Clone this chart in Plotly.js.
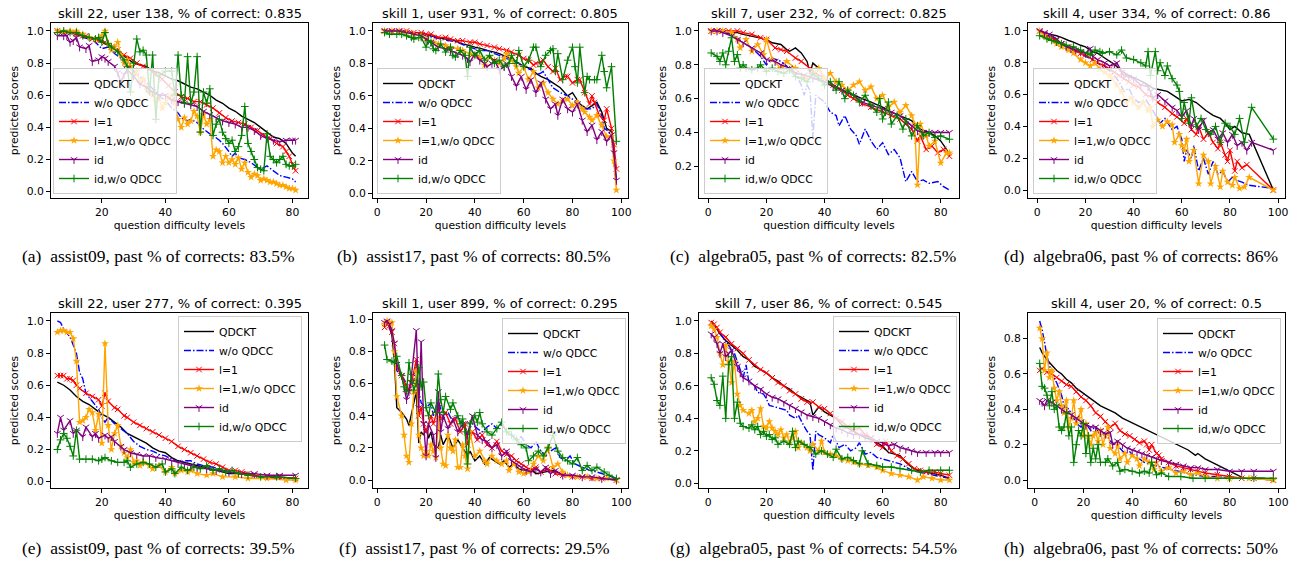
<!DOCTYPE html>
<html>
<head>
<meta charset="utf-8">
<script src="https://cdn.plot.ly/plotly-3.0.1.min.js"></script>
<style>html,body{margin:0;padding:0;background:#fff;}#chart{width:1297px;height:561px;}</style>
</head>
<body>
<div id="chart"></div>
<script>
// ---------------- DATA ----------------
const SERIES_NAMES = ["QDCKT", "w/o QDCC", "l=1", "l=1,w/o QDCC", "id", "id,w/o QDCC"];
const PANEL_TITLES = [
  "skill 22, user 138, % of correct: 0.835",
  "skill 1, user 931, % of correct: 0.805",
  "skill 7, user 232, % of correct: 0.825",
  "skill 4, user 334, % of correct: 0.86",
  "skill 22, user 277, % of correct: 0.395",
  "skill 1, user 899, % of correct: 0.295",
  "skill 7, user 86, % of correct: 0.545",
  "skill 4, user 20, % of correct: 0.5"
];
const CAPTIONS = [
  "(a)\u00a0 assist09, past % of corrects: 83.5%",
  "(b)\u00a0 assist17, past % of corrects: 80.5%",
  "(c)\u00a0 algebra05, past % of corrects: 82.5%",
  "(d)\u00a0 algebra06, past % of corrects: 86%",
  "(e)\u00a0 assist09, past % of corrects: 39.5%",
  "(f)\u00a0 assist17, past % of corrects: 29.5%",
  "(g)\u00a0 algebra05, past % of corrects: 54.5%",
  "(h)\u00a0 algebra06, past % of corrects: 50%"
];
const X_TITLE = "question difficulty levels";
const Y_TITLE = "predicted scores";

// panel (a)
const a_qdckt = [[6,1.0],[8,0.99],[10,0.99],[12,0.98],[14,0.97],[16,0.96],[18,0.95],[20,0.93],[22,0.91],[24,0.89],[26,0.86],[28,0.83],[30,0.80],[32,0.79],[34,0.78],[36,0.75],[38,0.74],[40,0.72],[42,0.70],[44,0.69],[46,0.67],[48,0.65],[50,0.64],[52,0.62],[54,0.60],[56,0.57],[58,0.55],[60,0.52],[62,0.50],[64,0.47],[66,0.45],[68,0.43],[70,0.40],[72,0.37],[74,0.34],[76,0.33],[78,0.30],[80,0.24],[81,0.22]];
const a_woqdcc = [[6,1.0],[8,1.0],[10,0.99],[12,0.98],[14,0.96],[16,0.95],[18,0.93],[20,0.89],[22,0.90],[24,0.86],[26,0.83],[28,0.78],[30,0.75],[32,0.72],[33,0.70],[35,0.66],[37,0.62],[39,0.58],[40,0.57],[42,0.52],[44,0.49],[45,0.46],[47,0.44],[48,0.45],[50,0.43],[52,0.39],[54,0.36],[55,0.35],[57,0.32],[58,0.30],[60,0.25],[61,0.22],[62,0.24],[63,0.21],[65,0.20],[67,0.18],[69,0.15],[70,0.14],[72,0.16],[74,0.13],[76,0.10],[78,0.09],[80,0.08],[81,0.06]];
const a_l1 = [[6,1.0],[8,0.99],[10,0.99],[12,0.98],[14,0.97],[15,0.97],[17,0.95],[19,0.94],[21,0.93],[23,0.90],[25,0.88],[27,0.85],[29,0.83],[31,0.80],[33,0.78],[35,0.76],[37,0.73],[39,0.70],[41,0.66],[43,0.62],[45,0.59],[47,0.58],[49,0.56],[51,0.56],[53,0.54],[55,0.52],[57,0.49],[59,0.46],[61,0.44],[63,0.43],[65,0.42],[67,0.40],[69,0.38],[71,0.35],[73,0.33],[75,0.30],[77,0.28],[78,0.25],[79,0.22],[80,0.17],[81,0.13]];
const a_l1wo = [[6,1.0],[8,1.0],[10,1.0],[12,1.0],[14,0.98],[16,0.96],[18,0.95],[20,0.97],[21,1.0],[22,0.92],[23,0.88],[24,0.90],[25,0.93],[26,0.85],[27,0.80],[28,0.82],[29,0.78],[30,0.72],[31,0.75],[32,0.68],[33,0.70],[34,0.65],[35,0.62],[36,0.60],[37,0.56],[38,0.58],[39,0.52],[40,0.55],[41,0.58],[42,0.60],[43,0.55],[44,0.45],[45,0.40],[46,0.46],[47,0.42],[48,0.44],[49,0.50],[50,0.47],[51,0.37],[52,0.48],[53,0.42],[54,0.45],[55,0.22],[56,0.26],[57,0.25],[58,0.18],[59,0.22],[60,0.18],[61,0.20],[62,0.17],[63,0.21],[64,0.14],[65,0.18],[66,0.12],[67,0.09],[68,0.11],[69,0.10],[70,0.07],[71,0.08],[72,0.07],[73,0.06],[74,0.06],[75,0.05],[76,0.04],[77,0.04],[78,0.03],[79,0.02],[80,0.02],[81,0.01]];
const a_id = [[6,0.97],[8,0.97],[9,0.97],[10,0.93],[11,0.94],[12,0.96],[13,0.90],[15,0.89],[16,0.91],[17,0.81],[19,0.82],[20,0.84],[21,0.83],[22,0.81],[24,0.78],[25,0.74],[26,0.68],[27,0.73],[28,0.76],[30,0.72],[32,0.67],[34,0.65],[36,0.62],[38,0.60],[40,0.60],[42,0.57],[44,0.56],[46,0.55],[48,0.54],[50,0.53],[52,0.50],[54,0.48],[56,0.46],[58,0.44],[60,0.43],[62,0.42],[64,0.40],[66,0.40],[68,0.38],[70,0.35],[72,0.33],[74,0.32],[76,0.31],[78,0.32],[80,0.32],[81,0.32]];
const a_idwo = [[6,0.99],[8,1.0],[10,0.99],[12,0.99],[14,0.97],[16,0.96],[18,0.95],[19,0.96],[20,0.93],[21,0.99],[22,0.92],[23,0.90],[25,0.87],[27,0.82],[28,0.78],[29,0.62],[30,0.80],[31,0.95],[32,0.87],[33,0.88],[34,0.85],[35,0.62],[36,0.85],[37,0.45],[38,0.72],[40,0.75],[42,0.75],[43,0.60],[44,0.85],[45,0.60],[46,0.55],[47,0.84],[48,0.55],[49,0.62],[50,0.84],[51,0.37],[52,0.62],[53,0.55],[54,0.64],[55,0.35],[56,0.42],[57,0.45],[58,0.37],[59,0.33],[60,0.30],[61,0.32],[62,0.25],[63,0.28],[64,0.35],[65,0.53],[66,0.30],[67,0.25],[68,0.20],[69,0.15],[70,0.14],[71,0.13],[72,0.36],[73,0.22],[74,0.20],[75,0.18],[76,0.20],[77,0.22],[78,0.17],[79,0.16],[80,0.16],[81,0.17]];

// panel (b)
const b_qdckt = [[3,1.0],[6,1.0],[9,1.0],[12,0.99],[15,0.99],[18,0.99],[20,0.98],[22,0.97],[25,0.96],[28,0.95],[30,0.95],[33,0.93],[35,0.92],[38,0.91],[40,0.90],[43,0.89],[45,0.88],[48,0.87],[50,0.86],[53,0.84],[55,0.83],[58,0.80],[60,0.78],[63,0.77],[65,0.74],[67,0.72],[70,0.70],[72,0.68],[75,0.65],[78,0.60],[80,0.62],[83,0.55],[86,0.52],[88,0.54],[90,0.56],[92,0.50],[94,0.40],[96,0.38],[97,0.25],[98,0.08]];
const b_woqdcc = [[3,1.0],[6,1.0],[9,1.0],[12,0.99],[15,0.99],[18,0.98],[20,0.97],[23,0.96],[26,0.95],[30,0.94],[33,0.93],[36,0.91],[40,0.89],[43,0.88],[45,0.88],[48,0.86],[50,0.85],[53,0.83],[55,0.82],[58,0.80],[60,0.78],[63,0.76],[65,0.73],[67,0.74],[68,0.75],[70,0.70],[72,0.65],[75,0.62],[78,0.60],[80,0.58],[83,0.55],[85,0.52],[88,0.52],[90,0.55],[92,0.48],[93,0.40],[95,0.38],[96,0.35],[97,0.20],[98,0.05]];
const b_l1 = [[3,1.0],[6,1.0],[9,1.0],[12,1.0],[15,0.99],[18,0.99],[20,0.98],[22,0.98],[25,0.96],[28,0.96],[30,0.95],[33,0.94],[35,0.94],[38,0.93],[40,0.93],[42,0.92],[45,0.91],[48,0.90],[50,0.89],[53,0.88],[55,0.87],[58,0.85],[60,0.83],[62,0.82],[64,0.79],[65,0.80],[67,0.81],[68,0.82],[70,0.78],[72,0.75],[73,0.77],[75,0.70],[77,0.72],[78,0.72],[80,0.68],[82,0.70],[83,0.70],[85,0.62],[87,0.55],[88,0.60],[89,0.56],[91,0.48],[93,0.45],[94,0.52],[96,0.40],[97,0.30],[98,0.15]];
const b_l1wo = [[3,1.0],[6,1.0],[9,1.0],[12,0.99],[15,0.98],[18,0.97],[20,0.95],[23,0.93],[25,0.92],[28,0.91],[30,0.90],[33,0.89],[35,0.88],[38,0.86],[40,0.85],[42,0.84],[44,0.79],[46,0.84],[48,0.82],[50,0.80],[52,0.83],[53,0.86],[55,0.82],[57,0.78],[58,0.74],[60,0.78],[62,0.70],[64,0.75],[66,0.65],[68,0.68],[70,0.62],[72,0.58],[74,0.55],[76,0.57],[78,0.58],[80,0.54],[82,0.56],[84,0.52],[85,0.50],[87,0.47],[88,0.45],[90,0.48],[92,0.42],[94,0.35],[96,0.35],[97,0.20],[98,0.02]];
const b_id = [[3,1.0],[6,1.0],[9,1.0],[12,0.99],[15,0.98],[18,0.97],[20,0.95],[22,0.93],[25,0.90],[28,0.89],[30,0.88],[33,0.86],[35,0.85],[37,0.83],[38,0.81],[40,0.86],[42,0.82],[44,0.80],[45,0.78],[47,0.80],[48,0.82],[50,0.76],[52,0.78],[53,0.80],[55,0.72],[57,0.66],[59,0.72],[61,0.64],[63,0.70],[65,0.62],[67,0.68],[69,0.58],[71,0.52],[73,0.55],[74,0.48],[76,0.58],[78,0.52],[80,0.50],[82,0.55],[84,0.45],[86,0.38],[88,0.42],[90,0.33],[92,0.38],[94,0.32],[96,0.36],[97,0.25],[98,0.08]];
const b_idwo = [[3,0.99],[5,0.98],[8,0.98],[10,0.98],[12,0.97],[14,0.96],[15,0.95],[17,0.96],[18,0.96],[20,0.90],[21,0.94],[22,0.93],[23,0.89],[24,0.88],[26,0.92],[28,0.87],[30,0.90],[31,0.85],[32,0.84],[34,0.88],[36,0.85],[37,0.72],[38,0.90],[40,0.85],[42,0.88],[44,0.82],[46,0.85],[48,0.80],[50,0.82],[52,0.78],[54,0.80],[55,0.85],[57,0.80],[58,0.88],[60,0.78],[62,0.82],[64,0.90],[65,0.90],[67,0.78],[69,0.85],[71,0.88],[72,0.89],[73,0.75],[74,0.86],[76,0.70],[78,0.82],[80,0.90],[81,0.78],[82,0.68],[83,0.90],[85,0.62],[86,0.72],[87,0.70],[89,0.70],[90,0.70],[92,0.85],[93,0.75],[94,0.65],[96,0.78],[98,0.32]];

// panel (c)
const c_qdckt = [[1,1.0],[3,1.0],[5,1.0],[7,0.99],[10,0.99],[12,0.98],[15,0.97],[18,0.96],[20,0.95],[22,0.93],[25,0.92],[27,0.89],[28,0.88],[30,0.90],[32,0.87],[34,0.82],[35,0.75],[36,0.81],[38,0.78],[40,0.72],[43,0.68],[46,0.65],[50,0.62],[53,0.60],[56,0.58],[60,0.55],[63,0.52],[66,0.50],[70,0.47],[73,0.42],[76,0.40],[78,0.38],[80,0.35],[82,0.30],[83,0.26]];
const c_woqdcc = [[1,1.0],[3,1.0],[5,0.99],[8,0.98],[10,0.96],[12,0.93],[15,0.90],[18,0.85],[20,0.80],[22,0.84],[25,0.82],[28,0.78],[30,0.75],[32,0.68],[33,0.62],[34,0.68],[35,0.65],[36,0.37],[37,0.62],[40,0.58],[42,0.52],[44,0.50],[45,0.44],[47,0.50],[49,0.42],[51,0.38],[52,0.33],[54,0.42],[56,0.35],[58,0.30],[60,0.34],[62,0.27],[64,0.30],[66,0.25],[68,0.11],[70,0.17],[72,0.11],[74,0.12],[76,0.10],[79,0.11],[81,0.08],[83,0.06]];
const c_l1 = [[1,1.0],[3,1.0],[5,1.0],[7,1.0],[10,1.0],[12,0.99],[15,0.98],[18,0.96],[20,0.95],[23,0.90],[25,0.89],[27,0.88],[30,0.84],[32,0.82],[35,0.78],[37,0.75],[40,0.72],[43,0.68],[46,0.65],[48,0.62],[50,0.60],[53,0.57],[56,0.55],[60,0.52],[63,0.50],[66,0.48],[68,0.45],[70,0.42],[72,0.35],[73,0.38],[75,0.30],[77,0.32],[79,0.28],[81,0.30],[83,0.26]];
const c_l1wo = [[1,1.0],[3,1.0],[5,1.0],[8,0.99],[10,0.95],[11,0.90],[13,0.95],[15,0.88],[17,0.92],[19,0.86],[20,0.95],[22,0.83],[25,0.78],[27,0.82],[30,0.78],[33,0.72],[36,0.75],[38,0.78],[40,0.72],[42,0.75],[44,0.70],[46,0.68],[48,0.65],[50,0.68],[52,0.70],[54,0.65],[56,0.67],[58,0.60],[60,0.62],[62,0.55],[64,0.58],[66,0.52],[68,0.56],[70,0.50],[71,0.45],[72,0.09],[73,0.45],[75,0.38],[76,0.32],[78,0.35],[80,0.22],[82,0.28],[83,0.28]];
const c_id = [[1,1.0],[3,1.0],[5,0.99],[8,0.97],[10,0.95],[12,0.93],[15,0.90],[18,0.87],[20,0.83],[23,0.82],[25,0.80],[28,0.78],[30,0.75],[33,0.74],[36,0.72],[40,0.70],[43,0.67],[46,0.65],[50,0.62],[53,0.58],[56,0.56],[60,0.54],[63,0.52],[66,0.50],[68,0.47],[70,0.44],[72,0.41],[74,0.40],[76,0.40],[78,0.40],[80,0.40],[83,0.40]];
const c_idwo = [[1,0.87],[3,0.85],[4,0.82],[5,0.87],[6,0.80],[7,0.88],[8,0.96],[9,0.82],[10,0.86],[11,0.78],[12,0.80],[13,0.78],[15,0.77],[17,0.78],[18,0.80],[20,0.76],[22,0.78],[24,0.76],[26,0.75],[28,0.77],[30,0.73],[32,0.72],[34,0.70],[36,0.75],[38,0.72],[40,0.68],[42,0.70],[44,0.65],[45,0.70],[47,0.60],[48,0.65],[50,0.62],[52,0.58],[54,0.62],[56,0.56],[58,0.52],[59,0.60],[60,0.48],[61,0.52],[62,0.58],[63,0.45],[65,0.50],[67,0.42],[68,0.48],[70,0.38],[72,0.44],[74,0.38],[76,0.40],[78,0.37],[80,0.38],[83,0.36]];

// panel (d)
const d_qdckt = [[1,1.0],[3,0.99],[5,0.98],[8,0.97],[10,0.96],[13,0.94],[15,0.93],[18,0.91],[20,0.90],[23,0.87],[25,0.86],[28,0.83],[30,0.81],[32,0.79],[35,0.75],[38,0.72],[41,0.70],[45,0.67],[48,0.64],[51,0.63],[54,0.62],[57,0.59],[60,0.56],[63,0.57],[66,0.55],[70,0.50],[73,0.47],[76,0.45],[78,0.42],[80,0.38],[82,0.40],[85,0.36],[88,0.35],[98,0.0]];
const d_woqdcc = [[1,1.0],[3,0.98],[5,0.97],[8,0.94],[10,0.92],[13,0.90],[15,0.88],[18,0.86],[20,0.84],[23,0.82],[25,0.80],[28,0.77],[30,0.75],[32,0.72],[34,0.68],[36,0.62],[38,0.64],[40,0.58],[42,0.55],[45,0.57],[48,0.50],[51,0.42],[53,0.45],[56,0.38],[58,0.40],[60,0.32],[61,0.18],[62,0.25],[64,0.20],[65,0.28],[67,0.12],[69,0.20],[71,0.10],[73,0.18],[75,0.10],[77,0.12],[79,0.05],[81,0.08],[83,0.06],[85,0.05],[88,0.03],[98,0.01]];
const d_l1 = [[1,1.0],[3,0.98],[5,0.96],[8,0.94],[10,0.92],[13,0.90],[15,0.88],[18,0.86],[20,0.85],[23,0.82],[25,0.80],[28,0.78],[30,0.76],[32,0.74],[34,0.72],[36,0.70],[38,0.68],[40,0.66],[42,0.65],[45,0.60],[48,0.58],[50,0.55],[53,0.52],[56,0.48],[58,0.46],[61,0.42],[62,0.45],[64,0.38],[66,0.35],[67,0.40],[69,0.32],[71,0.36],[73,0.30],[75,0.26],[76,0.30],[78,0.22],[79,0.18],[80,0.25],[82,0.12],[83,0.18],[85,0.14],[87,0.16],[98,0.0]];
const d_l1wo = [[1,1.0],[3,0.97],[5,0.95],[8,0.92],[10,0.90],[13,0.88],[15,0.86],[18,0.82],[20,0.80],[22,0.78],[24,0.80],[26,0.76],[28,0.74],[30,0.72],[31,0.70],[33,0.66],[35,0.62],[37,0.55],[39,0.58],[40,0.55],[42,0.52],[44,0.55],[46,0.50],[47,0.52],[48,0.40],[50,0.44],[52,0.40],[54,0.43],[56,0.41],[57,0.30],[59,0.35],[60,0.28],[61,0.25],[62,0.32],[63,0.18],[65,0.25],[67,0.04],[69,0.22],[71,0.18],[72,0.04],[74,0.15],[76,0.02],[77,0.12],[79,0.05],[81,0.03],[82,0.08],[84,0.01],[86,0.02],[88,0.08],[98,0.0]];
const d_id = [[1,1.0],[3,0.99],[5,0.98],[8,0.95],[10,0.92],[12,0.90],[14,0.89],[16,0.88],[18,0.87],[20,0.86],[22,0.89],[23,0.84],[25,0.82],[28,0.80],[30,0.78],[32,0.79],[33,0.80],[35,0.74],[36,0.72],[38,0.71],[40,0.70],[43,0.66],[46,0.65],[47,0.62],[48,0.58],[50,0.60],[53,0.56],[56,0.52],[58,0.50],[60,0.46],[62,0.50],[64,0.40],[65,0.45],[67,0.38],[69,0.44],[71,0.36],[73,0.38],[75,0.32],[77,0.36],[79,0.30],[81,0.35],[83,0.28],[85,0.30],[87,0.25],[89,0.30],[98,0.25]];
const d_idwo = [[1,0.97],[4,0.95],[6,0.94],[8,0.93],[10,0.92],[12,0.91],[15,0.90],[18,0.88],[21,0.86],[22,0.85],[24,0.88],[26,0.87],[27,0.86],[30,0.87],[33,0.85],[35,0.88],[37,0.83],[40,0.82],[43,0.80],[45,0.78],[46,0.87],[47,0.72],[49,0.87],[50,0.75],[51,0.80],[53,0.72],[54,0.78],[56,0.70],[58,0.66],[59,0.62],[60,0.45],[61,0.55],[63,0.42],[64,0.58],[66,0.40],[68,0.45],[70,0.38],[72,0.35],[74,0.40],[76,0.30],[78,0.42],[80,0.40],[82,0.35],[84,0.45],[86,0.30],[89,0.52],[98,0.32]];

// panel (e)
const e_qdckt = [[6,0.62],[7,0.61],[8,0.60],[10,0.57],[12,0.53],[14,0.50],[16,0.48],[18,0.45],[20,0.42],[22,0.40],[24,0.37],[26,0.34],[28,0.30],[30,0.28],[32,0.26],[34,0.24],[36,0.21],[38,0.19],[40,0.18],[42,0.15],[44,0.13],[46,0.12],[48,0.11],[50,0.10],[52,0.09],[54,0.08],[56,0.07],[58,0.06],[60,0.05],[63,0.05],[66,0.04],[70,0.03],[75,0.03],[81,0.02]];
const e_woqdcc = [[6,1.0],[7,0.99],[8,0.95],[10,0.90],[12,0.80],[13,0.68],[14,0.64],[15,0.55],[17,0.50],[19,0.45],[20,0.40],[21,0.37],[22,0.40],[24,0.36],[26,0.33],[28,0.30],[30,0.25],[32,0.22],[34,0.20],[36,0.19],[38,0.17],[40,0.16],[42,0.14],[44,0.12],[46,0.13],[48,0.13],[50,0.11],[52,0.10],[55,0.09],[58,0.07],[60,0.06],[63,0.05],[66,0.04],[70,0.03],[75,0.02],[81,0.01]];
const e_l1 = [[6,0.66],[7,0.66],[8,0.66],[9,0.64],[10,0.64],[11,0.63],[12,0.60],[13,0.58],[15,0.55],[17,0.53],[19,0.51],[20,0.47],[21,0.55],[22,0.50],[24,0.46],[25,0.45],[27,0.41],[28,0.40],[30,0.37],[32,0.35],[34,0.33],[36,0.31],[38,0.29],[40,0.27],[42,0.25],[44,0.22],[46,0.20],[48,0.18],[50,0.16],[52,0.14],[54,0.12],[56,0.11],[58,0.09],[60,0.07],[62,0.07],[64,0.06],[66,0.05],[68,0.04],[72,0.03],[76,0.03],[81,0.02]];
const e_l1wo = [[6,0.93],[7,0.94],[8,0.94],[9,0.93],[10,0.93],[11,0.89],[12,0.75],[13,0.37],[14,0.38],[15,0.40],[16,0.45],[17,0.43],[18,0.32],[19,0.42],[20,0.24],[21,0.86],[22,0.35],[23,0.20],[24,0.30],[25,0.35],[26,0.22],[27,0.18],[28,0.15],[29,0.20],[30,0.12],[31,0.13],[32,0.10],[33,0.12],[35,0.10],[36,0.08],[38,0.10],[40,0.06],[42,0.09],[43,0.05],[45,0.07],[47,0.06],[48,0.07],[50,0.05],[53,0.04],[55,0.05],[58,0.03],[62,0.03],[66,0.02],[72,0.02],[78,0.01],[81,0.01]];
const e_id = [[6,0.30],[7,0.40],[8,0.32],[10,0.38],[11,0.30],[12,0.32],[14,0.28],[15,0.34],[17,0.28],[18,0.30],[19,0.27],[21,0.29],[22,0.27],[23,0.28],[24,0.25],[26,0.22],[27,0.20],[29,0.18],[31,0.17],[33,0.16],[35,0.16],[37,0.15],[40,0.14],[42,0.13],[44,0.12],[46,0.11],[48,0.10],[50,0.09],[53,0.08],[56,0.07],[60,0.06],[64,0.05],[68,0.05],[72,0.04],[76,0.04],[81,0.04]];
const e_idwo = [[6,0.20],[7,0.26],[8,0.30],[9,0.27],[10,0.22],[11,0.16],[12,0.32],[13,0.14],[15,0.14],[17,0.14],[19,0.13],[20,0.14],[21,0.15],[23,0.13],[25,0.12],[27,0.12],[28,0.13],[29,0.09],[31,0.11],[33,0.12],[35,0.11],[37,0.09],[39,0.11],[40,0.06],[42,0.08],[43,0.05],[45,0.09],[47,0.07],[49,0.09],[51,0.08],[53,0.10],[55,0.07],[57,0.08],[59,0.06],[61,0.07],[63,0.05],[66,0.04],[70,0.03],[75,0.03],[81,0.02]];

// panel (f)
const f_qdckt = [[3,0.96],[4,0.98],[5,0.95],[6,0.90],[7,0.75],[8,0.45],[10,0.42],[12,0.38],[13,0.34],[14,0.42],[15,0.48],[16,0.55],[17,0.23],[18,0.30],[19,0.28],[20,0.32],[21,0.26],[22,0.30],[23,0.22],[25,0.20],[26,0.28],[27,0.22],[29,0.28],[30,0.24],[31,0.20],[33,0.25],[35,0.20],[37,0.15],[38,0.18],[40,0.12],[42,0.15],[44,0.10],[46,0.14],[48,0.12],[50,0.10],[52,0.12],[54,0.08],[56,0.10],[58,0.07],[60,0.06],[63,0.07],[65,0.04],[68,0.05],[72,0.06],[75,0.04],[78,0.03],[82,0.02],[86,0.02],[90,0.01],[94,0.01],[98,0.0]];
const f_woqdcc = [[3,0.97],[4,0.99],[5,0.96],[6,0.92],[7,0.80],[8,0.68],[10,0.65],[12,0.60],[13,0.55],[15,0.62],[16,0.70],[17,0.55],[18,0.48],[20,0.45],[22,0.48],[23,0.40],[25,0.50],[27,0.38],[29,0.42],[31,0.36],[33,0.40],[35,0.35],[37,0.30],[39,0.35],[41,0.32],[43,0.30],[45,0.33],[47,0.35],[49,0.32],[51,0.35],[53,0.30],[55,0.28],[57,0.25],[59,0.27],[61,0.22],[63,0.20],[65,0.24],[67,0.18],[69,0.15],[71,0.18],[73,0.20],[75,0.14],[77,0.12],[79,0.15],[81,0.10],[84,0.08],[87,0.06],[90,0.05],[94,0.03],[98,0.01]];
const f_l1 = [[3,0.95],[4,0.97],[5,0.96],[6,0.92],[7,0.85],[8,0.70],[10,0.65],[12,0.58],[13,0.55],[14,0.60],[16,0.75],[17,0.40],[18,0.45],[19,0.35],[20,0.30],[22,0.40],[23,0.35],[25,0.45],[26,0.38],[28,0.42],[30,0.35],[32,0.38],[34,0.30],[36,0.35],[37,0.22],[39,0.30],[41,0.25],[43,0.28],[45,0.22],[47,0.20],[49,0.24],[51,0.18],[53,0.16],[55,0.15],[57,0.12],[59,0.10],[61,0.08],[63,0.06],[65,0.08],[67,0.05],[70,0.07],[73,0.04],[76,0.03],[80,0.02],[84,0.02],[88,0.01],[92,0.01],[98,0.0]];
const f_l1wo = [[3,0.97],[4,0.99],[5,0.98],[6,0.98],[7,0.80],[8,0.52],[10,0.40],[11,0.28],[12,0.15],[13,0.11],[14,0.35],[15,0.55],[16,0.68],[17,0.28],[18,0.20],[19,0.15],[20,0.18],[21,0.15],[22,0.22],[23,0.18],[24,0.14],[25,0.38],[26,0.20],[27,0.10],[28,0.09],[29,0.28],[30,0.20],[31,0.18],[32,0.25],[33,0.08],[34,0.08],[35,0.22],[36,0.15],[37,0.07],[38,0.30],[40,0.15],[42,0.18],[44,0.12],[45,0.10],[47,0.15],[49,0.12],[51,0.10],[53,0.12],[54,0.06],[56,0.10],[58,0.05],[60,0.04],[62,0.05],[64,0.10],[66,0.15],[68,0.12],[70,0.20],[72,0.08],[74,0.10],[76,0.05],[78,0.03],[82,0.02],[86,0.02],[90,0.01],[94,0.01],[98,0.0]];
const f_id = [[3,0.98],[4,0.99],[5,0.97],[6,0.93],[7,0.85],[8,0.72],[10,0.65],[12,0.50],[13,0.55],[14,0.65],[16,0.93],[17,0.45],[18,0.86],[19,0.35],[20,0.15],[21,0.35],[23,0.28],[24,0.14],[25,0.55],[26,0.30],[27,0.40],[29,0.32],[31,0.38],[33,0.30],[35,0.35],[37,0.28],[38,0.35],[39,0.40],[41,0.28],[43,0.25],[45,0.24],[47,0.20],[49,0.22],[51,0.15],[53,0.18],[55,0.12],[57,0.10],[59,0.08],[61,0.06],[63,0.05],[65,0.07],[67,0.05],[69,0.08],[71,0.04],[73,0.06],[76,0.03],[80,0.03],[84,0.02],[88,0.02],[92,0.01],[98,0.0]];
const f_idwo = [[3,0.84],[4,0.75],[6,0.74],[7,0.73],[8,0.77],[10,0.65],[11,0.58],[12,0.55],[13,0.73],[14,0.62],[15,0.56],[16,0.60],[17,0.70],[18,0.58],[19,0.61],[20,0.45],[21,0.40],[22,0.48],[24,0.42],[25,0.66],[26,0.50],[27,0.42],[28,0.52],[30,0.44],[31,0.48],[33,0.40],[34,0.35],[35,0.38],[36,0.30],[37,0.10],[38,0.35],[40,0.40],[41,0.36],[42,0.42],[43,0.35],[45,0.30],[47,0.28],[49,0.32],[51,0.36],[53,0.30],[55,0.28],[57,0.25],[59,0.22],[61,0.20],[62,0.12],[64,0.15],[66,0.18],[68,0.15],[70,0.20],[72,0.28],[74,0.18],[76,0.14],[78,0.12],[80,0.10],[82,0.14],[84,0.06],[86,0.09],[88,0.06],[90,0.08],[93,0.05],[95,0.03],[98,0.01]];

// panel (g)
const g_qdckt = [[1,1.0],[2,0.98],[3,0.95],[4,0.92],[6,0.88],[8,0.85],[10,0.82],[12,0.78],[14,0.76],[16,0.72],[18,0.70],[20,0.68],[22,0.65],[24,0.63],[26,0.60],[28,0.58],[30,0.55],[32,0.53],[34,0.51],[35,0.50],[36,0.42],[38,0.47],[40,0.44],[42,0.42],[44,0.40],[46,0.36],[48,0.34],[50,0.32],[52,0.30],[54,0.28],[56,0.27],[58,0.25],[60,0.23],[62,0.19],[64,0.18],[66,0.17],[68,0.13],[70,0.10],[72,0.08],[75,0.07],[78,0.06],[80,0.05],[83,0.03]];
const g_woqdcc = [[1,0.98],[2,0.97],[3,0.95],[5,0.90],[7,0.85],[9,0.80],[10,0.75],[11,0.70],[12,0.65],[13,0.73],[14,0.62],[16,0.60],[17,0.56],[19,0.55],[20,0.52],[21,0.48],[23,0.47],[25,0.46],[27,0.45],[28,0.42],[30,0.40],[31,0.42],[32,0.38],[33,0.35],[34,0.32],[35,0.30],[36,0.08],[37,0.32],[38,0.30],[40,0.28],[42,0.25],[43,0.30],[45,0.22],[47,0.24],[49,0.20],[51,0.22],[52,0.25],[54,0.18],[56,0.19],[58,0.16],[60,0.15],[62,0.14],[64,0.13],[66,0.12],[68,0.10],[70,0.08],[72,0.07],[75,0.06],[78,0.05],[80,0.04],[83,0.03]];
const g_l1 = [[1,0.99],[2,0.98],[3,0.96],[4,0.93],[6,0.90],[8,0.86],[10,0.83],[12,0.80],[14,0.76],[16,0.73],[18,0.70],[20,0.68],[22,0.65],[24,0.62],[26,0.60],[28,0.57],[30,0.55],[32,0.52],[34,0.50],[36,0.50],[38,0.47],[40,0.46],[42,0.43],[44,0.40],[46,0.38],[48,0.35],[50,0.33],[52,0.34],[54,0.30],[56,0.28],[58,0.24],[60,0.22],[61,0.26],[63,0.20],[65,0.17],[67,0.15],[69,0.12],[71,0.09],[73,0.08],[75,0.07],[78,0.07],[80,0.06],[83,0.05]];
const g_l1wo = [[1,0.97],[2,0.95],[3,0.90],[4,0.80],[5,0.73],[6,0.85],[7,0.75],[8,0.62],[9,0.75],[10,0.55],[11,0.48],[12,0.45],[14,0.43],[15,0.45],[16,0.38],[17,0.40],[18,0.46],[19,0.35],[20,0.34],[21,0.38],[22,0.34],[23,0.32],[24,0.30],[25,0.33],[26,0.28],[27,0.30],[28,0.25],[29,0.28],[30,0.32],[31,0.22],[32,0.25],[34,0.22],[35,0.20],[36,0.24],[38,0.20],[39,0.26],[40,0.19],[42,0.18],[44,0.17],[46,0.15],[48,0.14],[50,0.13],[52,0.12],[55,0.11],[58,0.10],[60,0.08],[63,0.06],[66,0.05],[69,0.04],[72,0.02],[74,0.04],[77,0.03],[80,0.02],[83,0.02]];
const g_id = [[1,0.92],[2,0.90],[3,0.86],[4,0.80],[5,0.86],[6,0.78],[7,0.80],[8,0.82],[10,0.72],[11,0.68],[12,0.65],[14,0.63],[16,0.60],[18,0.58],[20,0.55],[22,0.53],[24,0.52],[26,0.50],[28,0.48],[30,0.46],[32,0.44],[34,0.42],[36,0.41],[38,0.40],[40,0.38],[42,0.36],[44,0.34],[46,0.33],[48,0.31],[50,0.30],[52,0.30],[54,0.29],[56,0.28],[58,0.26],[60,0.25],[62,0.23],[64,0.24],[66,0.22],[68,0.21],[70,0.20],[72,0.19],[75,0.19],[78,0.19],[80,0.19],[83,0.19]];
const g_idwo = [[1,0.65],[2,0.61],[3,0.51],[4,0.48],[5,0.66],[6,0.40],[7,0.73],[8,0.78],[9,0.40],[10,0.50],[11,0.37],[12,0.35],[14,0.34],[15,0.36],[16,0.33],[17,0.35],[18,0.30],[19,0.32],[20,0.29],[21,0.30],[22,0.27],[23,0.28],[24,0.24],[26,0.26],[28,0.24],[29,0.32],[30,0.22],[31,0.26],[33,0.24],[35,0.22],[37,0.18],[39,0.20],[41,0.18],[43,0.16],[44,0.21],[46,0.15],[48,0.16],[50,0.14],[52,0.12],[53,0.20],[55,0.12],[58,0.11],[60,0.10],[63,0.10],[66,0.09],[70,0.08],[73,0.07],[76,0.08],[80,0.08],[83,0.08]];

// panel (h)
const h_qdckt = [[2,0.75],[3,0.72],[5,0.68],[7,0.65],[9,0.62],[11,0.60],[13,0.57],[15,0.55],[17,0.52],[19,0.50],[21,0.48],[23,0.46],[25,0.44],[27,0.42],[30,0.40],[33,0.38],[36,0.35],[39,0.33],[42,0.31],[45,0.29],[48,0.27],[51,0.25],[54,0.23],[57,0.21],[60,0.19],[63,0.17],[66,0.14],[67,0.15],[70,0.12],[73,0.10],[77,0.07],[80,0.05],[83,0.03],[86,0.01],[90,0.01],[94,0.01],[98,0.0]];
const h_woqdcc = [[2,0.90],[3,0.85],[4,0.78],[5,0.70],[6,0.65],[7,0.60],[9,0.55],[11,0.48],[12,0.42],[14,0.40],[16,0.35],[17,0.32],[19,0.30],[21,0.32],[23,0.28],[25,0.30],[27,0.25],[29,0.27],[31,0.22],[33,0.20],[35,0.18],[37,0.15],[39,0.16],[41,0.13],[43,0.12],[45,0.10],[47,0.09],[50,0.08],[53,0.07],[56,0.06],[59,0.05],[62,0.04],[65,0.03],[70,0.02],[75,0.02],[80,0.01],[90,0.01],[98,0.0]];
const h_l1 = [[2,0.62],[3,0.63],[5,0.61],[7,0.60],[9,0.58],[11,0.56],[13,0.54],[15,0.53],[17,0.50],[19,0.47],[21,0.45],[23,0.42],[25,0.38],[27,0.36],[29,0.33],[31,0.30],[33,0.32],[35,0.28],[37,0.26],[39,0.25],[41,0.23],[43,0.21],[45,0.22],[46,0.20],[47,0.17],[48,0.20],[50,0.15],[51,0.14],[52,0.12],[55,0.10],[58,0.08],[61,0.07],[64,0.06],[67,0.05],[70,0.04],[75,0.03],[80,0.02],[85,0.01],[90,0.01],[98,0.0]];
const h_l1wo = [[2,0.86],[3,0.80],[4,0.62],[5,0.72],[6,0.58],[7,0.62],[8,0.52],[9,0.45],[10,0.50],[11,0.42],[12,0.38],[13,0.45],[14,0.30],[15,0.35],[16,0.45],[17,0.32],[18,0.35],[19,0.40],[20,0.25],[21,0.32],[22,0.25],[23,0.20],[24,0.25],[25,0.27],[26,0.22],[27,0.28],[28,0.20],[29,0.25],[30,0.30],[31,0.18],[33,0.15],[34,0.20],[35,0.12],[37,0.15],[38,0.10],[40,0.14],[42,0.12],[43,0.08],[45,0.12],[47,0.10],[49,0.06],[50,0.10],[52,0.05],[55,0.07],[58,0.04],[61,0.05],[64,0.03],[67,0.04],[70,0.02],[75,0.01],[80,0.01],[88,0.01],[98,0.0]];
const h_id = [[2,0.45],[3,0.44],[4,0.42],[5,0.45],[7,0.44],[9,0.42],[11,0.40],[13,0.38],[15,0.37],[17,0.35],[19,0.33],[21,0.31],[23,0.30],[25,0.30],[27,0.28],[29,0.26],[31,0.27],[32,0.20],[34,0.22],[36,0.20],[38,0.18],[40,0.17],[42,0.16],[44,0.15],[46,0.14],[48,0.13],[50,0.12],[52,0.11],[55,0.10],[58,0.09],[61,0.08],[64,0.07],[67,0.07],[70,0.06],[75,0.06],[80,0.05],[85,0.05],[90,0.05],[98,0.05]];
const h_idwo = [[2,0.66],[3,0.53],[4,0.52],[5,0.48],[6,0.42],[7,0.50],[8,0.40],[9,0.42],[10,0.30],[11,0.28],[12,0.30],[13,0.38],[14,0.25],[15,0.30],[16,0.10],[17,0.20],[18,0.28],[19,0.25],[20,0.32],[21,0.15],[22,0.25],[23,0.10],[24,0.18],[25,0.12],[26,0.20],[27,0.10],[29,0.10],[30,0.12],[32,0.08],[34,0.10],[35,0.05],[37,0.06],[40,0.05],[43,0.04],[45,0.05],[47,0.04],[48,0.10],[50,0.03],[52,0.04],[55,0.02],[60,0.02],[65,0.01],[70,0.01],[80,0.01],[90,0.01],[98,0.01]];

const PANEL_SERIES = [
  [a_qdckt, a_woqdcc, a_l1, a_l1wo, a_id, a_idwo],
  [b_qdckt, b_woqdcc, b_l1, b_l1wo, b_id, b_idwo],
  [c_qdckt, c_woqdcc, c_l1, c_l1wo, c_id, c_idwo],
  [d_qdckt, d_woqdcc, d_l1, d_l1wo, d_id, d_idwo],
  [e_qdckt, e_woqdcc, e_l1, e_l1wo, e_id, e_idwo],
  [f_qdckt, f_woqdcc, f_l1, f_l1wo, f_id, f_idwo],
  [g_qdckt, g_woqdcc, g_l1, g_l1wo, g_id, g_idwo],
  [h_qdckt, h_woqdcc, h_l1, h_l1wo, h_id, h_idwo]
];

// ---------------- LAYOUT / STYLE ----------------
const W = 1297, H = 561;
const FONT = "DejaVu Sans, Liberation Sans, sans-serif";
const TICK_SIZE = 10.8;
// plot-area boxes in pixels [left, right, top, bottom]
const BOXES = [
  [51, 308, 23, 198], [373, 628, 23, 198], [699, 959, 23, 198], [1028, 1285, 23, 198],
  [51, 308, 313, 488], [373, 628, 313, 488], [699, 959, 313, 488], [1028, 1285, 313, 488]
];
const X_RANGES = [[4.0, 84.9], [-1.75, 102.75], [-3.2, 86.3], [-3.85, 102.85],
                  [4.0, 84.9], [-1.75, 102.75], [-3.2, 86.3], [-2.8, 102.8]];
// legend anchor in pixels: [x, y, xanchor, yanchor]
const LEGEND_POS = [
  [53, 194, "left", "bottom"], [377, 194, "left", "bottom"], [704, 194, "left", "bottom"], [1033, 194, "left", "bottom"],
  [302, 316, "right", "top"], [626, 318, "right", "top"], [957, 316, "right", "top"], [1281, 318, "right", "top"]
];
const CAPTION_X = [158, 474, 813, 1141, 158, 474, 813, 1141];
const CAPTION_Y = [256, 256, 256, 256, 548, 548, 548, 548];

const STYLES = [
  {mode: "lines", line: {color: "#000000", width: 1.4}},
  {mode: "lines", line: {color: "#0000ff", width: 1.4, dash: "7px,2px,1.5px,2px"}},
  {mode: "lines+markers", line: {color: "#ff0000", width: 1.4},
   marker: {symbol: "x-thin", size: 5.5, color: "#ff0000", line: {color: "#ff0000", width: 1}}},
  {mode: "lines+markers", line: {color: "#ffa500", width: 1.4},
   marker: {symbol: "star", size: 6, color: "#ffa500", line: {width: 0}}},
  {mode: "lines+markers", line: {color: "#800080", width: 1.4},
   marker: {symbol: "y-down", size: 5.5, color: "#800080", line: {color: "#800080", width: 1}}},
  {mode: "lines+markers", line: {color: "#008000", width: 1.4},
   marker: {symbol: "cross-thin", size: 5.5, color: "#008000", line: {color: "#008000", width: 1}}}
];

const traces = [];
const layout = {
  width: W, height: H,
  margin: {l: 0, r: 0, t: 0, b: 0},
  paper_bgcolor: "#ffffff", plot_bgcolor: "#ffffff",
  font: {family: FONT, color: "#000000", size: TICK_SIZE},
  annotations: [],
  showlegend: true
};

PANEL_SERIES.forEach((series, p) => {
  const n = p === 0 ? "" : String(p + 1);
  const legendKey = "legend" + n;
  // y range: data extent with 5% margins (as the original plotting library does)
  let ymin = Infinity, ymax = -Infinity;
  series.forEach(s => s.forEach(pt => { ymin = Math.min(ymin, pt[1]); ymax = Math.max(ymax, pt[1]); }));
  const pad = (ymax - ymin) * 0.05;

  series.forEach((s, k) => {
    const st = STYLES[k];
    const tr = {
      type: "scatter",
      x: s.map(pt => pt[0]),
      y: s.map(pt => pt[1]),
      name: SERIES_NAMES[k],
      xaxis: "x" + n, yaxis: "y" + n,
      legend: legendKey,
      mode: st.mode,
      line: st.line,
      hoverinfo: "skip"
    };
    if (st.marker) tr.marker = st.marker;
    traces.push(tr);
  });

  const b = BOXES[p];
  const axisCommon = {
    showline: true, mirror: true, linecolor: "#000000", linewidth: 1,
    ticks: "outside", ticklen: 4, tickwidth: 1, tickcolor: "#000000",
    tickfont: {family: FONT, size: TICK_SIZE, color: "#000000"},
    showgrid: false, zeroline: false, fixedrange: true
  };
  layout["xaxis" + n] = Object.assign({}, axisCommon, {
    domain: [b[0] / W, b[1] / W],
    anchor: "y" + n,
    range: X_RANGES[p],
    tick0: 0, dtick: 20,
    title: {text: X_TITLE, font: {family: FONT, size: TICK_SIZE, color: "#000000"}, standoff: 3}
  });
  layout["yaxis" + n] = Object.assign({}, axisCommon, {
    domain: [1 - b[3] / H, 1 - b[2] / H],
    anchor: "x" + n,
    range: [ymin - pad, ymax + pad],
    tick0: 0, dtick: 0.2, tickformat: ".1f",
    title: {text: Y_TITLE, font: {family: FONT, size: TICK_SIZE, color: "#000000"}, standoff: 5}
  });

  const lp = LEGEND_POS[p];
  layout[legendKey] = {
    x: lp[0] / W, y: 1 - lp[1] / H, xanchor: lp[2], yanchor: lp[3],
    xref: "paper", yref: "paper",
    bgcolor: "rgba(255,255,255,0.8)", bordercolor: "#cccccc", borderwidth: 1,
    font: {family: FONT, size: TICK_SIZE, color: "#000000"},
    tracegroupgap: 0, itemwidth: 30, traceorder: "normal"
  };

  // panel title
  layout.annotations.push({
    text: PANEL_TITLES[p], xref: "paper", yref: "paper",
    x: (b[0] + b[1]) / 2 / W, y: 1 - (b[2] - 10) / H,
    xanchor: "center", yanchor: "middle", showarrow: false,
    font: {family: FONT, size: 13, color: "#000000"}
  });
  // caption
  layout.annotations.push({
    text: CAPTIONS[p], xref: "paper", yref: "paper",
    x: CAPTION_X[p] / W, y: 1 - CAPTION_Y[p] / H,
    xanchor: "center", yanchor: "middle", showarrow: false,
    font: {family: "Liberation Serif, DejaVu Serif, serif", size: 17.5, color: "#000000"}
  });
});

Plotly.newPlot("chart", traces, layout, {displayModeBar: false, staticPlot: true});
</script>
</body>
</html>
